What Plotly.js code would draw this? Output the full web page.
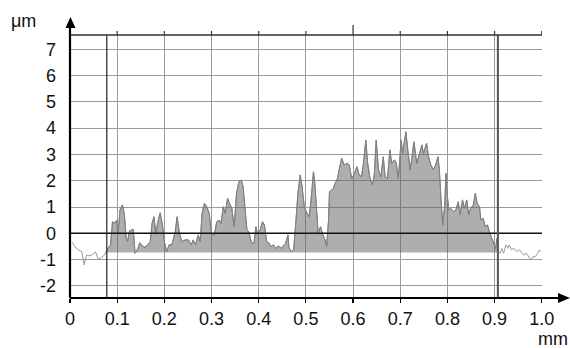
<!DOCTYPE html>
<html>
<head>
<meta charset="utf-8">
<script src="https://cdn.plot.ly/plotly-3.0.1.min.js"></script>
<style>html,body{margin:0;padding:0;background:#fff;}#chart{width:570px;height:348px;}</style>
</head>
<body>
<div id="chart"></div>
<script>
// Profile data (mm, µm)
const profileX = [0.004,0.011,0.018,0.025,0.030,0.035,0.042,0.049,0.054,0.060,0.067,0.073,0.078,0.081,0.086,0.090,0.094,0.099,0.102,0.106,0.111,0.115,0.119,0.122,0.126,0.131,0.134,0.138,0.144,0.148,0.153,0.159,0.165,0.170,0.174,0.178,0.182,0.187,0.191,0.196,0.200,0.205,0.210,0.216,0.223,0.227,0.232,0.237,0.244,0.251,0.257,0.261,0.266,0.272,0.276,0.280,0.285,0.290,0.295,0.300,0.306,0.311,0.316,0.320,0.325,0.329,0.334,0.338,0.343,0.348,0.353,0.358,0.363,0.367,0.371,0.375,0.379,0.385,0.390,0.394,0.398,0.403,0.408,0.412,0.417,0.422,0.426,0.431,0.436,0.442,0.447,0.452,0.457,0.462,0.464,0.469,0.474,0.478,0.483,0.488,0.492,0.497,0.502,0.507,0.511,0.516,0.519,0.523,0.526,0.531,0.536,0.541,0.544,0.548,0.550,0.555,0.558,0.562,0.567,0.571,0.576,0.581,0.587,0.592,0.597,0.602,0.608,0.613,0.618,0.622,0.627,0.631,0.636,0.641,0.645,0.649,0.654,0.659,0.664,0.668,0.673,0.678,0.682,0.687,0.691,0.696,0.702,0.705,0.712,0.716,0.721,0.724,0.729,0.735,0.741,0.746,0.749,0.753,0.756,0.760,0.765,0.770,0.775,0.780,0.783,0.787,0.790,0.794,0.797,0.800,0.803,0.807,0.813,0.818,0.823,0.827,0.832,0.836,0.841,0.845,0.849,0.855,0.859,0.863,0.868,0.871,0.876,0.880,0.885,0.889,0.893,0.898,0.902,0.905,0.908,0.912,0.915,0.919,0.924,0.928,0.931,0.936,0.941,0.947,0.953,0.958,0.962,0.967,0.972,0.977,0.981,0.986,0.991,0.995,0.999];
const profileY = [-0.32,-0.53,-0.63,-0.70,-1.20,-0.83,-0.86,-0.79,-0.70,-0.99,-0.91,-0.83,-0.63,-0.57,-0.44,0.44,0.38,0.50,0.00,0.89,1.08,0.76,-0.13,-0.32,0.09,0.13,0.15,-0.76,-0.57,-0.36,-0.48,-0.53,-0.44,-0.32,0.38,0.63,0.00,0.50,0.78,0.32,-0.32,-0.70,-0.44,-0.44,0.06,0.63,0.00,-0.32,-0.25,-0.25,-0.44,-0.25,-0.44,-0.06,-0.32,0.76,1.14,1.01,0.76,0.00,-0.06,0.44,0.50,0.38,1.01,0.76,1.33,1.14,0.95,0.25,1.52,1.96,2.03,1.77,0.89,0.13,0.06,-0.38,-0.38,0.25,-0.06,0.13,0.44,0.32,-0.32,-0.38,-0.51,-0.44,-0.57,-0.48,-0.57,-0.48,-0.38,-0.06,-0.53,-0.70,-0.63,0.25,1.52,2.22,1.77,0.95,0.80,0.63,1.27,2.34,1.90,0.63,0.00,0.25,-0.06,-0.25,-0.51,0.50,1.58,1.65,1.71,1.90,2.09,2.47,2.85,2.60,2.66,2.60,2.09,2.22,2.53,2.22,2.15,2.66,3.55,2.66,2.09,1.84,2.22,3.55,2.41,2.15,2.91,2.15,2.09,3.17,2.66,2.79,2.72,2.09,3.55,3.04,3.86,3.17,2.41,2.79,3.48,2.66,3.04,3.36,3.04,3.29,3.42,2.91,2.60,2.41,2.60,2.91,2.41,1.14,0.32,1.01,2.28,1.39,0.89,0.95,0.82,0.89,1.20,0.70,1.27,0.95,1.27,0.70,0.95,1.08,1.52,1.14,1.01,0.50,0.57,0.25,0.32,0.06,-0.13,-0.32,-0.57,-0.19,-0.70,-0.76,-0.57,-0.76,-0.44,-0.57,-0.44,-0.63,-0.57,-0.70,-0.63,-0.76,-0.83,-0.76,-0.89,-1.01,-0.89,-0.89,-0.76,-0.63,-0.70];
const cutoffs = [0.078, 0.907];      // evaluation-length markers (mm)
const baseline = -0.73;              // fill reference level (µm)
const xTickVals = [0,0.1,0.2,0.3,0.4,0.5,0.6,0.7,0.8,0.9,1.0];
const xTickText = ['0','0.1','0.2','0.3','0.4','0.5','0.6','0.7','0.8','0.9','1.0'];
const yTickVals = [-2,-1,0,1,2,3,4,5,6,7];
const yTickText = ['-2','-1','0','1','2','3','4','5','6','7'];

// layout geometry (pixels)
const W = 570, H = 348, ML = 70, MR = 28, MT = 35, MB = 50;
const PW = W - ML - MR, PH = H - MT - MB;
const px = p => (p - ML) / PW;
const py = p => (H - MB - p) / PH;

const innerX = [], innerY = [];
profileX.forEach((x, i) => {
  if (x >= cutoffs[0] && x <= cutoffs[1]) { innerX.push(x); innerY.push(profileY[i]); }
});

const traces = [
  {x: profileX, y: profileY, mode: 'lines', line: {color: '#9a9a9a', width: 1}, hoverinfo: 'skip', showlegend: false},
  {x: cutoffs, y: [baseline, baseline], mode: 'lines', line: {width: 0, color: 'rgba(0,0,0,0)'}, hoverinfo: 'skip', showlegend: false},
  {x: innerX, y: innerY, mode: 'lines', fill: 'tonexty', fillcolor: 'rgba(100,100,100,0.52)', line: {color: '#808080', width: 1}, hoverinfo: 'skip', showlegend: false}
];

const font = {family: '"Liberation Sans", Arial, sans-serif', size: 18, color: '#111'};

const shapes = [];
shapes.push({type: 'line', xref: 'paper', yref: 'y', x0: 0, x1: 1, y0: 0, y1: 0, line: {color: '#111', width: 1.5}, layer: 'above'});
shapes.push({type: 'line', xref: 'x', yref: 'paper', x0: cutoffs[0], x1: cutoffs[0], y0: 0, y1: 1, line: {color: '#222', width: 1.2}, layer: 'above'});
shapes.push({type: 'line', xref: 'x', yref: 'paper', x0: cutoffs[1], x1: cutoffs[1], y0: 0, y1: 1, line: {color: '#555', width: 2}, layer: 'above'});
shapes.push({type: 'line', xref: 'paper', yref: 'paper', x0: 0, x1: 1, y0: 1, y1: 1, line: {color: '#333', width: 1.5}, layer: 'above'});
xTickVals.forEach(t => {
  shapes.push({type: 'line', xref: 'x', yref: 'paper', ysizemode: 'pixel', yanchor: 1, x0: t, x1: t, y0: 0, y1: t === 0.6 ? 10 : 4, line: {color: '#333', width: 1.2}, layer: 'above'});
});
shapes.push({type: 'line', xref: 'paper', yref: 'paper', x0: 0, x1: 0, y0: 0, y1: py(27), line: {color: '#000', width: 2.2}, layer: 'above'});
shapes.push({type: 'path', xref: 'paper', yref: 'paper', path: `M ${px(65.5)},${py(28)} L ${px(70.5)},${py(17)} L ${px(75.5)},${py(28)} Z`, fillcolor: '#000', line: {width: 0}, layer: 'above'});
shapes.push({type: 'line', xref: 'paper', yref: 'paper', x0: 0, x1: px(559), y0: 0, y1: 0, line: {color: '#000', width: 2.2}, layer: 'above'});
shapes.push({type: 'path', xref: 'paper', yref: 'paper', path: `M ${px(558)},${py(293)} L ${px(570)},${py(298)} L ${px(558)},${py(303)} Z`, fillcolor: '#000', line: {width: 0}, layer: 'above'});

const layout = {
  width: W, height: H,
  margin: {l: ML, r: MR, t: MT, b: MB, pad: 0},
  paper_bgcolor: '#fff', plot_bgcolor: '#fff',
  showlegend: false,
  font: font,
  xaxis: {
    range: [0, 1.0005], tickvals: xTickVals, ticktext: xTickText,
    showgrid: true, gridcolor: '#9a9a9a', gridwidth: 1, zeroline: false,
    showline: false, ticks: 'outside', ticklen: 4, tickwidth: 1.2, tickcolor: '#000',
    tickfont: font, ticklabelstandoff: 0, fixedrange: true
  },
  yaxis: {
    range: [-2.46, 7.54], tickvals: yTickVals, ticktext: yTickText,
    showgrid: true, gridcolor: '#9a9a9a', gridwidth: 1, zeroline: false,
    showline: false, ticks: '', tickfont: font, ticklabelstandoff: 13, fixedrange: true
  },
  shapes: shapes,
  annotations: [
    {xref: 'paper', yref: 'paper', x: px(9), y: py(21), xanchor: 'left', yanchor: 'middle', text: 'μm', showarrow: false, font: font},
    {xref: 'paper', yref: 'paper', x: px(569.5), y: py(339), xanchor: 'right', yanchor: 'middle', text: 'mm', showarrow: false, font: font}
  ]
};

Plotly.newPlot('chart', traces, layout, {staticPlot: true, displayModeBar: false});
</script>
</body>
</html>
